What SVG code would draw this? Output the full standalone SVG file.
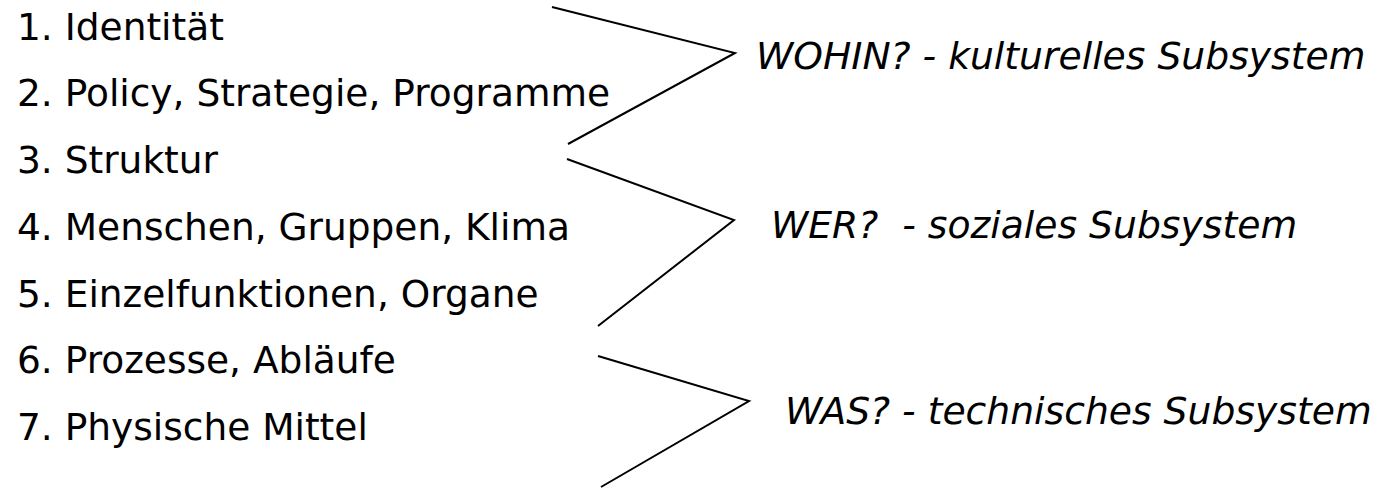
<svg xmlns="http://www.w3.org/2000/svg" width="1378" height="490" viewBox="0 0 1378 490">
<style>
.item{font-family:"DejaVu Sans","Verdana",sans-serif;font-size:37.5px;fill:#000}
.lbl{font-family:"DejaVu Sans","Verdana",sans-serif;font-size:37.7px;font-style:italic;fill:#000}
.br{fill:none;stroke:#000;stroke-width:2}
</style>
<rect width="1378" height="490" fill="#fff"/>
<g id="items">
<g id="item1"><text class="item" x="17" y="40">1. Identität</text></g>
<g id="item2"><text class="item" x="17" y="106">2. Policy, Strategie, Programme</text></g>
<g id="item3"><text class="item" x="17" y="173">3. Struktur</text></g>
<g id="item4"><text class="item" x="17" y="240">4. Menschen, Gruppen, Klima</text></g>
<g id="item5"><text class="item" x="17" y="307">5. Einzelfunktionen, Organe</text></g>
<g id="item6"><text class="item" x="17" y="373">6. Prozesse, Abläufe</text></g>
<g id="item7"><text class="item" x="17" y="440">7. Physische Mittel</text></g>
</g>
<g id="connectors">
<polyline class="br" points="552,7 735,53 568,144"/>
<polyline class="br" points="567,159 734,220 598,326"/>
<polyline class="br" points="598,356 749,401 601,487"/>
</g>
<g id="label1"><text class="lbl" x="756" y="69">WOHIN? - kulturelles Subsystem</text></g>
<g id="label2"><text class="lbl" x="771" y="238" xml:space="preserve">WER?  - soziales Subsystem</text></g>
<g id="label3"><text class="lbl" x="785" y="424">WAS? - technisches Subsystem</text></g>
</svg>
